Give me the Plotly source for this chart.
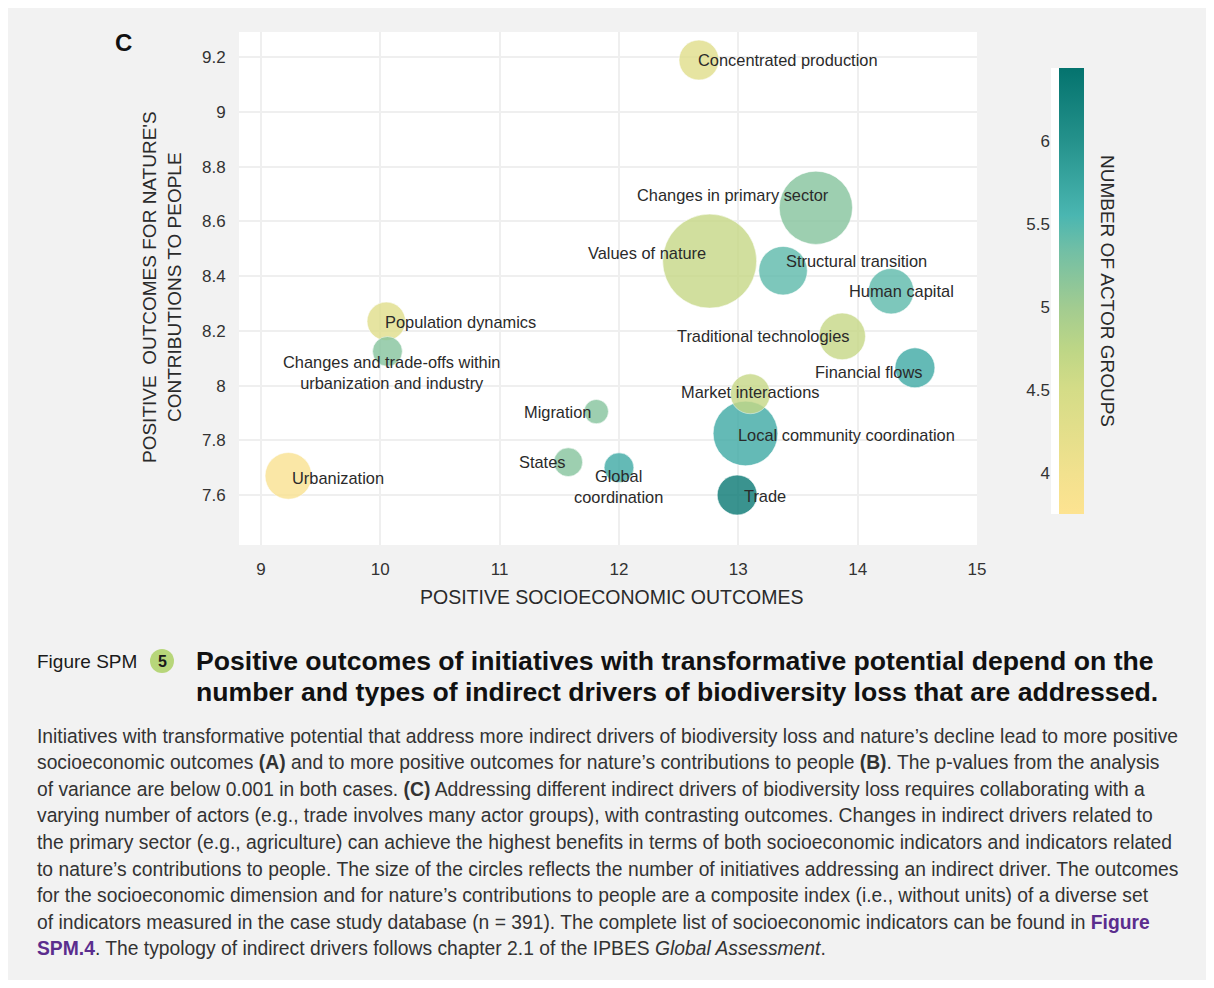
import plotly.graph_objects as go

# ---------------- data ----------------
drivers = [
    "Concentrated production", "Changes in primary sector", "Values of nature",
    "Structural transition", "Human capital", "Population dynamics",
    "Changes and trade-offs within<br>urbanization and industry",
    "Traditional technologies", "Financial flows", "Local community coordination",
    "Market interactions", "Migration", "States", "Global<br>coordination",
    "Urbanization", "Trade",
]
socio = [12.67, 13.65, 12.76, 13.375, 14.28, 10.05, 10.06, 13.87, 14.48, 13.06,
         13.10, 11.81, 11.575, 12.00, 9.23, 12.99]
ncp = [9.19, 8.65, 8.455, 8.42, 8.345, 8.235, 8.125, 8.18, 8.065, 7.825,
       7.97, 7.905, 7.72, 7.70, 7.67, 7.60]
actors = [4.3, 5.2, 4.65, 5.45, 5.45, 4.3, 5.2, 4.65, 5.7, 5.7,
          4.65, 5.2, 5.2, 5.7, 3.85, 6.35]
initiatives = [27, 91, 150, 40, 35, 25, 15, 37, 27, 71, 27, 10, 14, 15, 37, 27]

x_ticks = [9, 10, 11, 12, 13, 14, 15]
y_ticks = [7.6, 7.8, 8.0, 8.2, 8.4, 8.6, 8.8, 9.0, 9.2]
y_ticktext = ["7.6", "7.8", "8", "8.2", "8.4", "8.6", "8.8", "9", "9.2"]
cb_ticks = [4, 4.5, 5, 5.5, 6]
cb_ticktext = ["4", "4.5", "5", "5.5", "6"]

# label placement style (anchor, xshift px, yshift px)
label_style = [
    ("left", -3, 0), ("right", 15, 13), ("right", -2, 8), ("left", 1, 10),
    ("center", 10, 0), ("left", -3, -1), ("center", 4, -21), ("right", 10, 0),
    ("right", 10, -4), ("left", -9, -2), ("center", 0, 2), ("right", -3, 0),
    ("right", -1, 0), ("center", 0, -19), ("left", 2, -2), ("left", 5, -1),
]

caption_lines = [
    "Initiatives with transformative potential that address more indirect drivers of biodiversity loss and nature\u2019s decline lead to more positive",
    "socioeconomic outcomes <b>(A)</b> and to more positive outcomes for nature\u2019s contributions to people <b>(B)</b>. The p-values from the analysis",
    "of variance are below 0.001 in both cases. <b>(C)</b> Addressing different indirect drivers of biodiversity loss requires collaborating with a",
    "varying number of actors (e.g., trade involves many actor groups), with contrasting outcomes. Changes in indirect drivers related to",
    "the primary sector (e.g., agriculture) can achieve the highest benefits in terms of both socioeconomic indicators and indicators related",
    "to nature\u2019s contributions to people. The size of the circles reflects the number of initiatives addressing an indirect driver. The outcomes",
    "for the socioeconomic dimension and for nature\u2019s contributions to people are a composite index (i.e., without units) of a diverse set",
    "of indicators measured in the case study database (n = 391). The complete list of socioeconomic indicators can be found in <span style=\"color:#5b2d8e\"><b>Figure</b></span>",
    "<span style=\"color:#5b2d8e\"><b>SPM.4</b></span>. The typology of indirect drivers follows chapter 2.1 of the IPBES <i>Global Assessment</i>.",
]
title_lines = [
    "Positive outcomes of initiatives with transformative potential depend on the",
    "number and types of indirect drivers of biodiversity loss that are addressed.",
]

# ---------------- geometry helpers (page px -> paper) ----------------
OFF = 8  # page body margin
W, H = 1198, 972
def PX(x):
    return (x - OFF) / W
def PY(y):
    return 1 - (y - OFF) / H

FONT = "Liberation Sans, Arial, Helvetica, sans-serif"
TXT = "#2a2a2a"

colorscale = [
    [0.00, "#fde391"], [0.09, "#f2e18e"], [0.28, "#d4dc87"], [0.37, "#bdd686"],
    [0.46, "#a3cc90"], [0.59, "#72bfa5"], [0.67, "#4ab6b1"], [0.84, "#24918b"],
    [1.00, "#04736e"],
]
CMIN, CMAX = 3.755, 6.437

fig = go.Figure()
fig.add_trace(go.Scatter(
    x=socio, y=ncp, mode="markers", text=drivers, hoverinfo="text",
    showlegend=False,
    marker=dict(
        size=initiatives, sizemode="area",
        sizeref=2 * max(initiatives) / (94 ** 2),
        color=actors, colorscale=colorscale, cmin=CMIN, cmax=CMAX,
        opacity=0.8, line=dict(width=0.8, color="rgba(255,255,255,0.7)"),
        colorbar=dict(
            x=PX(1059), xanchor="left", xpad=0,
            y=PY(68), yanchor="top", ypad=0,
            len=(514 - 68) / H, lenmode="fraction",
            thickness=25, thicknessmode="pixels",
            outlinewidth=0, showticklabels=False, ticks="",
        ),
    ),
))
# invisible trace to display colorbar tick labels on the left of the bar
fig.add_trace(go.Scatter(x=[None], y=[None], xaxis="x2", yaxis="y2",
                         showlegend=False, hoverinfo="skip"))

annotations = []
for name, xv, yv, (anc, dx, dy) in zip(drivers, socio, ncp, label_style):
    annotations.append(dict(
        x=xv, y=yv, xref="x", yref="y", text=name, showarrow=False,
        xanchor=anc, yanchor="middle", xshift=dx, yshift=dy, align="center",
        font=dict(family=FONT, size=16.4, color=TXT),
    ))

# panel letter
annotations.append(dict(x=PX(123), y=PY(43), xref="paper", yref="paper",
                        text="<b>C</b>", showarrow=False, xanchor="center",
                        yanchor="middle", font=dict(family=FONT, size=24, color="#111")))
# axis titles
annotations.append(dict(x=PX(612), y=PY(597), xref="paper", yref="paper",
                        text="POSITIVE SOCIOECONOMIC OUTCOMES", showarrow=False,
                        xanchor="center", yanchor="middle",
                        font=dict(family=FONT, size=19.5, color=TXT)))
annotations.append(dict(x=PX(162), y=PY(287), xref="paper", yref="paper",
                        text="POSITIVE\u00a0 OUTCOMES FOR NATURE'S<br>CONTRIBUTIONS TO PEOPLE",
                        showarrow=False, textangle=-90, xanchor="center", yanchor="middle",
                        font=dict(family=FONT, size=19, color=TXT)))
annotations.append(dict(x=PX(1108), y=PY(291), xref="paper", yref="paper",
                        text="NUMBER OF ACTOR GROUPS", showarrow=False, textangle=90,
                        xanchor="center", yanchor="middle",
                        font=dict(family=FONT, size=19, color=TXT)))
# figure caption
annotations.append(dict(x=PX(35), y=PY(661), xref="paper", yref="paper",
                        text="Figure SPM", showarrow=False, xanchor="left", yanchor="middle",
                        font=dict(family=FONT, size=19, color="#1a1a1a")))
annotations.append(dict(x=PX(162), y=PY(661), xref="paper", yref="paper",
                        text="<b>5</b>", showarrow=False, xanchor="center", yanchor="middle",
                        font=dict(family=FONT, size=16, color="#1a1a1a")))
for i, t in enumerate(title_lines):
    annotations.append(dict(x=PX(194), y=PY(661 + 31 * i), xref="paper", yref="paper",
                            text="<b>" + t + "</b>", showarrow=False, xanchor="left",
                            yanchor="middle", font=dict(family=FONT, size=26.6, color="#111")))
for i, t in enumerate(caption_lines):
    annotations.append(dict(x=PX(35), y=PY(736 + 26.6 * i), xref="paper", yref="paper",
                            text=t, showarrow=False, xanchor="left", yanchor="middle",
                            font=dict(family=FONT, size=19.3, color="#333")))

shapes = [
    # figure-number badge
    dict(type="circle", xref="paper", yref="paper",
         x0=PX(150), x1=PX(174), y0=PY(673), y1=PY(649),
         fillcolor="#b7d67a", line_width=0, layer="below"),
]

fig.update_layout(
    width=W, height=H, autosize=False,
    margin=dict(l=0, r=0, t=0, b=0, pad=0),
    paper_bgcolor="#f2f2f2", plot_bgcolor="white",
    template="none",
    font=dict(family=FONT, color=TXT),
    xaxis=dict(domain=[PX(239), PX(977)], range=[8.816, 15], tickvals=x_ticks,
               showgrid=True, gridcolor="#efefef", gridwidth=2, zeroline=False,
               showline=False, ticks="outside", ticklen=9, tickcolor="rgba(0,0,0,0)",
               tickfont=dict(family=FONT, size=17, color="#333"), automargin=False,
               fixedrange=True),
    yaxis=dict(domain=[PY(545), PY(32)], range=[7.4173, 9.2925], tickvals=y_ticks,
               ticktext=y_ticktext, showgrid=True, gridcolor="#efefef", gridwidth=2,
               zeroline=False, showline=False, ticks="outside", ticklen=9,
               tickcolor="rgba(0,0,0,0)",
               tickfont=dict(family=FONT, size=17, color="#333"), automargin=False,
               fixedrange=True),
    xaxis2=dict(domain=[PX(1051), PX(1059)], range=[0, 1], visible=False,
                anchor="y2", fixedrange=True),
    yaxis2=dict(domain=[PY(514), PY(68)], range=[CMIN, CMAX], anchor="x2",
                side="left", tickvals=cb_ticks, ticktext=cb_ticktext, showgrid=False,
                zeroline=False, showline=False, ticks="",
                tickfont=dict(family=FONT, size=17, color="#333"), automargin=False,
                fixedrange=True),
    annotations=annotations,
    shapes=shapes,
)

fig.write_html("out.html")
